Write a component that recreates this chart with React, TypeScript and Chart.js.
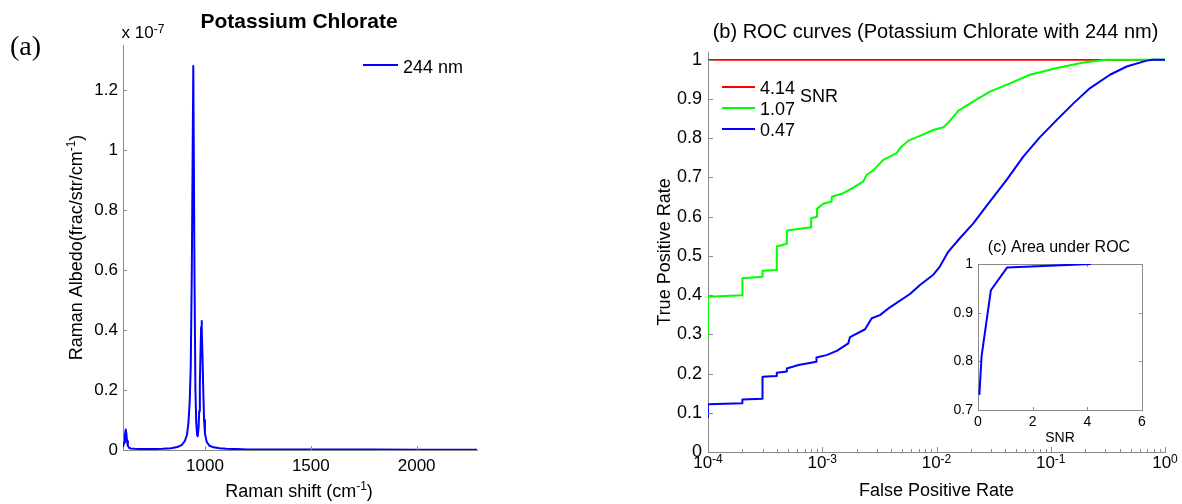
import React, { useEffect, useRef } from 'react';
import { Chart, registerables } from 'chart.js';

Chart.register(...registerables);

const FONT = '"Liberation Sans", Arial, Helvetica, sans-serif';
const SERIF = '"Liberation Serif", "Times New Roman", serif';
const AXIS = '#8a8a8a';
const BLUE = '#0000ff';
const GREEN = '#00ff00';
const RED = '#ff0000';

// ---------- (a) Raman spectrum ----------
const ramanShift = [613, 618, 622, 626, 629, 632, 636, 642, 650, 670, 700, 750, 800, 840, 870, 890, 905, 915, 922, 928, 933, 938, 945, 951, 955, 959, 963, 966, 970, 973, 976, 979, 982, 984, 986, 989, 992, 996, 1000, 1008, 1020, 1040, 1070, 1100, 1150, 1200, 1400, 1600, 1800, 2000, 2200, 2285];
const ramanAlbedo = [0.01, 0.025, 0.05, 0.068, 0.055, 0.03, 0.014, 0.007, 0.005, 0.004, 0.003, 0.003, 0.004, 0.006, 0.01, 0.016, 0.03, 0.05, 0.09, 0.16, 0.28, 0.6, 1.28, 0.55, 0.2, 0.09, 0.05, 0.046, 0.075, 0.13, 0.22, 0.32, 0.41, 0.43, 0.4, 0.3, 0.2, 0.1, 0.055, 0.028, 0.015, 0.009, 0.006, 0.004, 0.003, 0.002, 0.002, 0.0015, 0.0015, 0.001, 0.001, 0.001];
const aXTicks = [1000, 1500, 2000];
const aYTicks = [0, 0.2, 0.4, 0.6, 0.8, 1, 1.2];
const aLegend = '244 nm';

// ---------- (b) ROC curves ----------
const fprHigh = [1e-4, 1];
const tprHigh = [1, 1];
const fprMid = [1e-4, 1e-4, 2.0e-4, 2.0e-4, 3.0e-4, 3.0e-4, 4.0e-4, 4.0e-4, 4.9e-4, 4.9e-4, 8.0e-4, 8.0e-4, 9.0e-4, 9.0e-4, 1.02e-3, 1.21e-3, 1.21e-3, 1.53e-3, 1.87e-3, 2.29e-3, 2.45e-3, 2.8e-3, 3.42e-3, 4.48e-3, 4.8e-3, 5.67e-3, 7.17e-3, 9.38e-3, 1.15e-2, 1.27e-2, 1.55e-2, 2.1e-2, 2.94e-2, 4.4e-2, 6.58e-2, 0.113, 0.193, 0.308, 1];
const tprMid = [0.29, 0.396, 0.4, 0.443, 0.447, 0.462, 0.464, 0.524, 0.531, 0.565, 0.573, 0.596, 0.6, 0.62, 0.633, 0.639, 0.651, 0.66, 0.674, 0.69, 0.707, 0.718, 0.745, 0.762, 0.775, 0.794, 0.806, 0.821, 0.828, 0.84, 0.87, 0.894, 0.919, 0.94, 0.962, 0.979, 0.993, 1, 1];
const fprLow = [1e-4, 1e-4, 2.0e-4, 2.0e-4, 3.0e-4, 3.0e-4, 4.0e-4, 4.0e-4, 4.9e-4, 4.9e-4, 6.2e-4, 8.9e-4, 8.9e-4, 1.09e-3, 1.34e-3, 1.69e-3, 1.75e-3, 2.37e-3, 2.71e-3, 3.2e-3, 3.91e-3, 5.86e-3, 7.17e-3, 9.38e-3, 1.07e-2, 1.27e-2, 1.6e-2, 2.1e-2, 2.94e-2, 4.11e-2, 5.75e-2, 8.05e-2, 0.113, 0.158, 0.221, 0.33, 0.462, 0.692, 0.78, 1];
const tprLow = [0.087, 0.122, 0.124, 0.134, 0.136, 0.192, 0.194, 0.202, 0.205, 0.213, 0.222, 0.23, 0.241, 0.247, 0.258, 0.277, 0.293, 0.313, 0.341, 0.349, 0.369, 0.403, 0.426, 0.452, 0.473, 0.511, 0.545, 0.583, 0.639, 0.694, 0.753, 0.803, 0.847, 0.889, 0.928, 0.962, 0.983, 0.998, 1, 1];
const snrLabels = ['4.14', '1.07', '0.47'];
const bXTickExps = [-4, -3, -2, -1, 0];
const bMinorMultipliers = [2, 3, 4, 5, 6, 7, 8, 9];
const bYTicks = [0, 0.1, 0.2, 0.3, 0.4, 0.5, 0.6, 0.7, 0.8, 0.9, 1];

// ---------- (c) Area under ROC ----------
const snrValues = [0.05, 0.13, 0.47, 1.07, 4.14];
const aucValues = [0.731, 0.81, 0.946, 0.993, 1.0];
const cXTicks = [0, 2, 4, 6];
const cYTicks = [0.7, 0.8, 0.9, 1];

type Part = { t: string; size: number; rise?: number; bold?: boolean; family?: string };

function drawParts(ctx: CanvasRenderingContext2D, parts: Part[], x: number, y: number, align: 'left' | 'center' | 'right', rotate = 0) {
  ctx.save();
  ctx.translate(x, y);
  if (rotate) ctx.rotate(rotate);
  ctx.textBaseline = 'alphabetic';
  ctx.textAlign = 'left';
  ctx.fillStyle = '#000';
  const fontOf = (p: Part) => `${p.bold ? 'bold ' : ''}${p.size}px ${p.family || FONT}`;
  let total = 0;
  const widths = parts.map((p) => {
    ctx.font = fontOf(p);
    const w = ctx.measureText(p.t).width;
    total += w;
    return w;
  });
  let cx = align === 'left' ? 0 : align === 'center' ? -total / 2 : -total;
  parts.forEach((p, i) => {
    ctx.font = fontOf(p);
    ctx.fillText(p.t, cx, -(p.rise || 0));
    cx += widths[i];
  });
  ctx.restore();
}

function drawInTicks(chart: any, axis: 'x' | 'y', values: number[], len: number, both: boolean) {
  const { ctx, chartArea: a } = chart;
  const s = chart.scales[axis];
  ctx.save();
  ctx.strokeStyle = AXIS;
  ctx.lineWidth = 1;
  ctx.beginPath();
  for (const v of values) {
    const p = Math.round(s.getPixelForValue(v)) + 0.5;
    if (axis === 'x') {
      ctx.moveTo(p, a.bottom);
      ctx.lineTo(p, a.bottom - len);
      if (both) {
        ctx.moveTo(p, a.top);
        ctx.lineTo(p, a.top + len);
      }
    } else {
      ctx.moveTo(a.left, p);
      ctx.lineTo(a.left + len, p);
      if (both) {
        ctx.moveTo(a.right, p);
        ctx.lineTo(a.right - len, p);
      }
    }
  }
  ctx.stroke();
  ctx.restore();
}

const setTicks = (vals: number[]) => (s: any) => {
  s.ticks = vals.map((v) => ({ value: v }));
};

const baseOpts = {
  animation: false as const,
  responsive: false,
  events: [] as any[],
  plugins: { legend: { display: false }, tooltip: { enabled: false } },
};

function lineDs(xs: number[], ys: number[], color: string, width = 2) {
  return {
    data: xs.map((x, i) => ({ x, y: ys[i] })),
    borderColor: color,
    backgroundColor: color,
    borderWidth: width,
    pointRadius: 0,
    tension: 0,
    fill: false,
    borderJoinStyle: 'round' as const,
  };
}

function configA(): any {
  return {
    type: 'line',
    data: { datasets: [lineDs(ramanShift, ramanAlbedo, BLUE, 2)] },
    options: {
      ...baseOpts,
      layout: { padding: { left: 0, right: 113, top: 45, bottom: 0 } },
      scales: {
        x: {
          type: 'linear', min: 613, max: 2285,
          afterBuildTicks: setTicks(aXTicks),
          afterFit: (s: any) => { s.height = 54; },
          grid: { display: false, drawTicks: false },
          border: { display: true, color: AXIS, width: 1 },
          ticks: { color: '#000', font: { family: FONT, size: 17 }, padding: 6, maxRotation: 0, autoSkip: false, callback: (v: any) => String(v) },
        },
        y: {
          type: 'linear', min: 0, max: 1.35,
          afterBuildTicks: setTicks(aYTicks),
          afterFit: (s: any) => { s.width = 123; },
          grid: { display: false, drawTicks: false },
          border: { display: true, color: AXIS, width: 1 },
          ticks: { color: '#000', font: { family: FONT, size: 17 }, padding: 5, autoSkip: false, callback: (v: any) => String(v) },
        },
      },
    },
    plugins: [{
      id: 'decorA',
      afterDraw(chart: any) {
        const ctx = chart.ctx as CanvasRenderingContext2D;
        const a = chart.chartArea;
        drawInTicks(chart, 'x', aXTicks, 4, false);
        drawInTicks(chart, 'y', aYTicks, 4, false);
        drawParts(ctx, [{ t: '(a)', size: 28, family: SERIF }], 10, 55, 'left');
        drawParts(ctx, [{ t: 'Potassium Chlorate', size: 21, bold: true }], 299, 28, 'center');
        drawParts(ctx, [{ t: 'x 10', size: 17 }, { t: '-7', size: 12, rise: 5 }], 121.5, 38, 'left');
        drawParts(ctx, [{ t: 'Raman shift (cm', size: 18 }, { t: '-1', size: 12, rise: 7 }, { t: ')', size: 18 }], (a.left + a.right) / 2 - 1, 497, 'center');
        drawParts(ctx, [{ t: 'Raman Albedo(frac/str/cm', size: 18 }, { t: '-1', size: 12, rise: 7 }, { t: ')', size: 18 }], 82, (a.top + a.bottom) / 2, 'center', -Math.PI / 2);
        // legend
        ctx.save();
        ctx.strokeStyle = BLUE;
        ctx.lineWidth = 2;
        ctx.beginPath();
        ctx.moveTo(363, 65);
        ctx.lineTo(398, 65);
        ctx.stroke();
        ctx.restore();
        drawParts(ctx, [{ t: aLegend, size: 18 }], 403, 73, 'left');
      },
    }],
  };
}

function configB(): any {
  return {
    type: 'line',
    data: {
      datasets: [
        lineDs(fprLow, tprLow, BLUE, 2),
        lineDs(fprMid, tprMid, GREEN, 2),
        lineDs(fprHigh, tprHigh, RED, 1.6),
      ],
    },
    options: {
      ...baseOpts,
      layout: { padding: { left: 0, right: 17, top: 52, bottom: 0 } },
      scales: {
        x: {
          type: 'logarithmic', min: 1e-4, max: 1,
          afterBuildTicks: setTicks(bXTickExps.map((e) => Math.pow(10, e))),
          afterFit: (s: any) => { s.height = 52; },
          grid: { display: false, drawTicks: false },
          border: { display: true, color: AXIS, width: 1 },
          ticks: { display: false },
          title: { display: true, text: 'False Positive Rate', color: '#000', font: { family: FONT, size: 18 }, padding: { top: 0, bottom: 2.5 } },
        },
        y: {
          type: 'linear', min: 0, max: 1.02,
          afterBuildTicks: setTicks(bYTicks),
          afterFit: (s: any) => { s.width = 118; },
          grid: { display: false, drawTicks: false },
          border: { display: true, color: AXIS, width: 1 },
          ticks: { color: '#000', font: { family: FONT, size: 18 }, padding: 6, autoSkip: false, callback: (v: any) => String(v) },
          title: { display: true, text: 'True Positive Rate', color: '#000', font: { family: FONT, size: 18 }, padding: { top: 64, bottom: 0 } },
        },
      },
    },
    plugins: [{
      id: 'decorB',
      afterDraw(chart: any) {
        const ctx = chart.ctx as CanvasRenderingContext2D;
        const a = chart.chartArea;
        const xs = chart.scales.x;
        drawInTicks(chart, 'y', bYTicks, 5, false);
        drawInTicks(chart, 'x', bXTickExps.map((e) => Math.pow(10, e)), 5, false);
        const minor: number[] = [];
        bXTickExps.slice(0, -1).forEach((e) => bMinorMultipliers.forEach((m) => minor.push(m * Math.pow(10, e))));
        drawInTicks(chart, 'x', minor, 3, false);
        for (const e of bXTickExps) {
          const px = xs.getPixelForValue(Math.pow(10, e));
          drawParts(ctx, [{ t: '10', size: 17 }, { t: String(e), size: 12, rise: 5 }], px, 468, 'center');
        }
        drawParts(ctx, [{ t: '(b) ROC curves (Potassium Chlorate with 244 nm)', size: 20 }], (a.left + a.right) / 2 - 1, 38, 'center');
        const colors = [RED, GREEN, BLUE];
        const rowY = [87, 108, 129];
        colors.forEach((c, i) => {
          ctx.save();
          ctx.strokeStyle = c;
          ctx.lineWidth = 2;
          ctx.beginPath();
          ctx.moveTo(132, rowY[i]);
          ctx.lineTo(165, rowY[i]);
          ctx.stroke();
          ctx.restore();
          drawParts(ctx, [{ t: snrLabels[i], size: 18 }], 170, rowY[i] + 6.5, 'left');
        });
        drawParts(ctx, [{ t: 'SNR', size: 18 }], 210, 102, 'left');
      },
    }],
  };
}

function configC(): any {
  return {
    type: 'line',
    data: { datasets: [lineDs(snrValues, aucValues, BLUE, 2)] },
    options: {
      ...baseOpts,
      layout: { padding: { left: 0, right: 28, top: 36, bottom: 0 } },
      scales: {
        x: {
          type: 'linear', min: 0, max: 6,
          afterBuildTicks: setTicks(cXTicks),
          afterFit: (s: any) => { s.height = 38; },
          grid: { display: false, drawTicks: false },
          border: { display: false },
          ticks: { color: '#000', font: { family: FONT, size: 14 }, padding: 4, maxRotation: 0, autoSkip: false, callback: (v: any) => String(v) },
          title: { display: true, text: 'SNR', color: '#000', font: { family: FONT, size: 14 }, padding: { top: 0, bottom: 1.6 } },
        },
        y: {
          type: 'linear', min: 0.7, max: 1,
          afterBuildTicks: setTicks(cYTicks),
          afterFit: (s: any) => { s.width = 48; },
          grid: { display: false, drawTicks: false },
          border: { display: false },
          ticks: { color: '#000', font: { family: FONT, size: 14 }, padding: 5, autoSkip: false, callback: (v: any) => String(v) },
        },
      },
    },
    plugins: [{
      id: 'decorC',
      beforeDraw(chart: any) {
        const ctx = chart.ctx as CanvasRenderingContext2D;
        const a = chart.chartArea;
        ctx.save();
        ctx.fillStyle = '#fff';
        ctx.fillRect(a.left, a.top, a.right - a.left, a.bottom - a.top);
        ctx.restore();
      },
      beforeDatasetsDraw(chart: any) {
        const ctx = chart.ctx as CanvasRenderingContext2D;
        const a = chart.chartArea;
        ctx.save();
        ctx.strokeStyle = AXIS;
        ctx.lineWidth = 1;
        ctx.strokeRect(Math.round(a.left) + 0.5, Math.round(a.top) + 0.5, Math.round(a.right - a.left), Math.round(a.bottom - a.top));
        ctx.restore();
        drawInTicks(chart, 'x', cXTicks.slice(1, -1), 3, true);
        drawInTicks(chart, 'y', cYTicks.slice(1, -1), 3, true);
      },
      afterDraw(chart: any) {
        const ctx = chart.ctx as CanvasRenderingContext2D;
        drawParts(ctx, [{ t: '(c) Area under ROC', size: 16 }], 129, 24, 'center');
      },
    }],
  };
}

export default function App() {
  const aRef = useRef<HTMLCanvasElement>(null);
  const bRef = useRef<HTMLCanvasElement>(null);
  const cRef = useRef<HTMLCanvasElement>(null);

  useEffect(() => {
    const charts = [
      new Chart(aRef.current as HTMLCanvasElement, configA()),
      new Chart(bRef.current as HTMLCanvasElement, configB()),
      new Chart(cRef.current as HTMLCanvasElement, configC()),
    ];
    return () => charts.forEach((c) => c.destroy());
  }, []);

  return (
    <div style={{ position: 'fixed', left: 0, top: 0, width: 1182, height: 504, background: '#fff', overflow: 'hidden' }}>
      <canvas ref={aRef} width={590} height={504} style={{ position: 'absolute', left: 0, top: 0, width: 590, height: 504 }} />
      <canvas ref={bRef} width={592} height={504} style={{ position: 'absolute', left: 590, top: 0, width: 592, height: 504 }} />
      <canvas ref={cRef} width={240} height={220} style={{ position: 'absolute', left: 930, top: 228, width: 240, height: 220 }} />
    </div>
  );
}
